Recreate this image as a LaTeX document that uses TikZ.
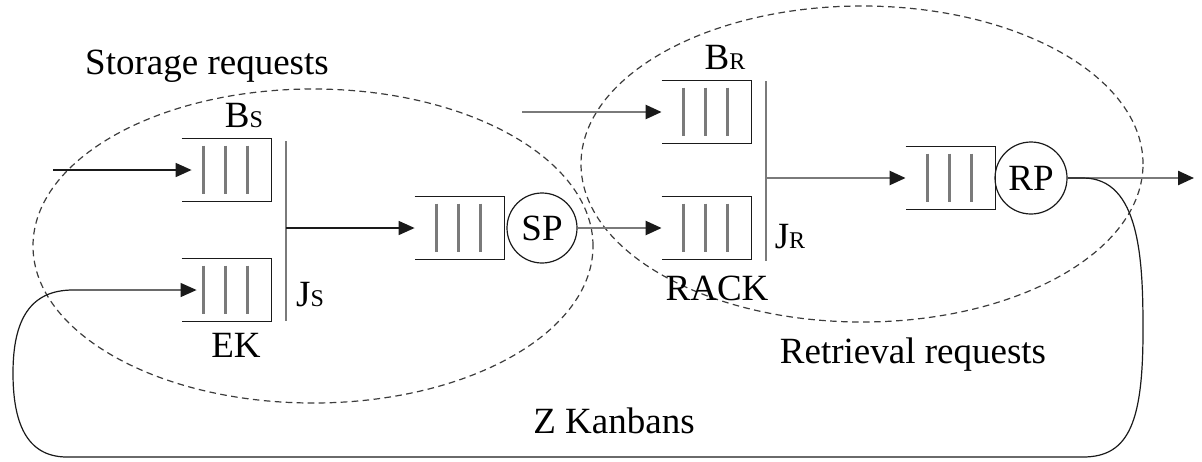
\documentclass[tikz,border=0pt]{standalone}
\usepackage{fontspec}
\setmainfont{Liberation Serif}
\usetikzlibrary{arrows.meta,calc,shapes.geometric}

\definecolor{lineblack}{HTML}{1A1A1A}
\definecolor{linegrey}{HTML}{7A7A7A}
\definecolor{dashgrey}{HTML}{3C3C3C}

% small capital used as index letter (B_S, J_R, ...)
\newcommand{\idx}[1]{{\fontsize{12}{12}\selectfont #1}}

% open-left buffer with three slots
\newcommand{\queuebox}[2]{%
  \node[qbox] (#1) at (#2) {};
  \draw[qedge] (#1.north west) -- (#1.north east) -- (#1.south east) -- (#1.south west);
  \foreach \dx in {22,44,66}
    \draw[qslot] ($(#1.north west)+(\dx,7)$) -- ($(#1.south west)+(\dx,-7)$);
}

\tikzset{
  qbox/.style={minimum width=44.5pt, minimum height=31pt, inner sep=0pt, draw=none},
  qedge/.style={lineblack, line width=0.75pt},
  qslot/.style={linegrey, line width=1.2pt},
  server/.style={circle, draw=lineblack, line width=0.6pt, inner sep=0pt},
  joinbar/.style={linegrey, line width=1.2pt},
  zone/.style={ellipse, draw=dashgrey, line width=0.6pt, dash pattern=on 3.3pt off 2.2pt, inner sep=0pt},
  lbl/.style={inner sep=0pt, font=\fontsize{18.5}{20}\selectfont},
  tip/.style={-{Triangle[length=8pt,width=7pt,color=lineblack]}},
  flow/.style={tip, lineblack, line width=0.8pt},
  flowgrey/.style={tip, linegrey, line width=1.2pt},
  feedback/.style={tip, lineblack, line width=0.6pt},
}

\begin{document}
\begin{tikzpicture}[x=0.5pt, y=-0.5pt]
  \useasboundingbox (0,0) rectangle (1202,461);

  % subsystem outlines
  \node[zone, minimum width=280pt, minimum height=157pt] (storagezone) at (313,246) {};
  \node[zone, minimum width=281pt, minimum height=158pt] (retrievalzone) at (862,164) {};

  % storage side
  \queuebox{QS1}{226.5,170}
  \queuebox{QS2}{226.5,290}
  \queuebox{QM}{459.5,228}
  \node[server, minimum size=35pt, lbl] (SP) at (542,228) {SP};

  \coordinate (JStop) at (286,141);
  \coordinate (JSbot) at (286,321);
  \coordinate (JS) at (286,228);
  \draw[joinbar] (JStop) -- (JSbot);

  % retrieval side
  \queuebox{QR1}{706.5,112}
  \queuebox{QR2}{706.5,228}
  \queuebox{QRP}{950.5,178}
  \node[server, minimum size=36pt, lbl] (RP) at (1031,178) {RP};

  \coordinate (JRtop) at (766,81);
  \coordinate (JRbot) at (766,261);
  \coordinate (JR) at (766,178);
  \draw[joinbar] (JRtop) -- (JRbot);

  % external ends and turning points of the kanban loop
  \coordinate (srcS) at (53,170);
  \coordinate (srcR) at (522,112);
  \coordinate (sink) at (1194,178);
  \coordinate (fb1) at (1083,178);
  \coordinate (fb2) at (1143,330);
  \coordinate (fb3) at (1083,457);
  \coordinate (fb4) at (67,457);
  \coordinate (fb5) at (13,373);
  \coordinate (fb6) at (73,290);

  % flows
  \draw[flow] (srcS) -- ($(QS1.west)+(10,0)$);
  \draw[flow] (JS) -- (QM.west);
  \draw[flowgrey] (srcR) -- (QR1.west);
  \draw[flowgrey] (SP.east) -- (QR2.west);
  \draw[flowgrey] (JR) -- (QRP.west);
  \draw[flowgrey] (RP.east) -- (sink);
  \draw[feedback] (RP.east) -- (fb1)
    .. controls +(57,0) and +(0,-70) .. (fb2)
    .. controls +(0,90) and +(47,0) .. (fb3)
    -- (fb4)
    .. controls +(-42,0) and +(0,47) .. (fb5)
    .. controls +(0,-53) and +(-43,0) .. (fb6)
    -- ($(QS2.west)+(15,0)$);

  % labels
  \node[lbl] (storagelbl) at (207,66) {Storage requests};
  \node[lbl] (BSlbl) at (244,115) {B\idx{S}};
  \node[lbl] (JSlbl) at (310,295) {J\idx{S}};
  \node[lbl] (EKlbl) at (236,345) {EK};
  \node[lbl] (BRlbl) at (725,57) {B\idx{R}};
  \node[lbl] (JRlbl) at (790,237) {J\idx{R}};
  \node[lbl] (RACKlbl) at (717,288) {RACK};
  \node[lbl] (retrievallbl) at (913,355) {Retrieval requests};
  \node[lbl] (kanbanlbl) at (614,421) {Z Kanbans};
\end{tikzpicture}
\end{document}
